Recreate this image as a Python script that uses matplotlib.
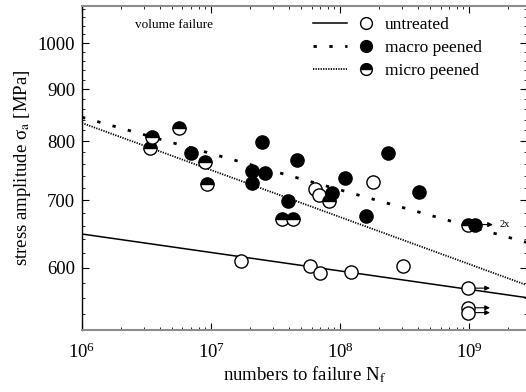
import matplotlib
matplotlib.use("Agg")
import matplotlib.pyplot as plt
import numpy as np
from matplotlib.lines import Line2D
from matplotlib.legend_handler import HandlerTuple
from matplotlib.ticker import FixedLocator, NullFormatter, LogLocator

plt.rcParams['font.family'] = 'serif'
plt.rcParams['font.serif'] = ['Liberation Serif', 'DejaVu Serif']
plt.rcParams['mathtext.fontset'] = 'stix'

# data
untreated_N = [1.71e7, 5.85e7, 7.0e7, 1.22e8, 3.08e8, 6.4e7, 6.9e7, 1.8e8, 9.8e8]
untreated_S = [610, 603, 593, 594, 603, 718, 708, 730, 573]
runout_N = [9.8e8, 9.8e8]
runout_S = [548, 542]

macro_N = [7.0e6, 2.48e7, 2.08e7, 2.62e7, 2.08e7, 4.64e7, 3.95e7, 8.67e7,
           1.09e8, 2.36e8, 4.1e8, 1.59e8, 1.11e9]
macro_S = [779, 799, 748, 744, 728, 767, 698, 711, 736, 779, 713, 675, 662]

micro_N = [3.37e6, 3.49e6, 5.65e6, 8.97e6, 9.3e6, 3.55e7, 4.32e7, 8.2e7, 9.8e8]
micro_S = [788, 808, 825, 763, 726, 671, 671, 698, 662]

# fitted S-N lines (end points)
fit_N = [1e6, 3e9]
untreated_fit = [648, 560]
macro_fit = [845, 634]
micro_fit = [834, 575]

fig = plt.figure(figsize=(5.26, 3.92), dpi=100)
ax = fig.add_axes([82/526, 1-330/392, 445/526, 324/392])
ax.set_xscale('log')
ax.set_yscale('log')

ax.plot(fit_N, untreated_fit, color='black', lw=1.1, zorder=2)
ax.plot(fit_N, macro_fit, color='black', lw=2.0, ls=(0, (1.2, 4.5)), zorder=2)
ax.plot(fit_N, micro_fit, color='black', lw=1.3, ls=(0, (0.7, 0.7)), zorder=2)

ms = 9.5
ax.plot(untreated_N, untreated_S, 'o', ms=ms, mfc='white', mec='black', mew=1.0, zorder=3)
ax.plot(runout_N, runout_S, 'o', ms=ms, mfc='white', mec='black', mew=1.0, zorder=3)
ax.plot(micro_N, micro_S, 'o', ms=ms, fillstyle='top', mfc='black', mfcalt='white',
        mec='black', mew=1.0, zorder=3)
ax.plot(macro_N, macro_S, 'o', ms=ms, mfc='black', mec='black', mew=1.0, zorder=4)

# run-out arrows
for n, s in zip([9.8e8] + runout_N, [573] + runout_S):
    ax.annotate('', xy=(n*1.55, s), xytext=(n*1.08, s),
                arrowprops=dict(arrowstyle='-|>', lw=0.8, color='black',
                                mutation_scale=7))
ax.annotate('', xy=(1.6e9, 662), xytext=(1.2e9, 662),
            arrowprops=dict(arrowstyle='-|>', lw=0.8, color='black', mutation_scale=7))
ax.text(1.72e9, 662, '2x', fontsize=7.5, va='center', ha='left')

ax.text(0.12, 0.94, 'volume failure', transform=ax.transAxes, fontsize=9.5,
        va='center', ha='left')

ax.set_xlim(1e6, 2.8e9)
ax.set_ylim(521, 1088)

ax.xaxis.set_major_locator(LogLocator(base=10, numticks=10))
ax.xaxis.set_minor_locator(LogLocator(base=10, subs=np.arange(2, 10), numticks=10))
ax.yaxis.set_major_locator(FixedLocator([600, 700, 800, 900, 1000]))
ax.yaxis.set_minor_locator(FixedLocator(np.arange(520, 1100, 20)))
ax.yaxis.set_major_formatter(matplotlib.ticker.FixedFormatter(['600', '700', '800', '900', '1000']))
ax.yaxis.set_minor_formatter(NullFormatter())

ax.tick_params(which='both', direction='in', top=True, right=True, labelsize=13.5)
ax.tick_params(which='major', length=5, width=0.8)
ax.tick_params(which='minor', length=2.5, width=0.6)
ax.tick_params(axis='x', pad=9)
ax.tick_params(axis='y', pad=5)

for side in ['top', 'bottom']:
    ax.spines[side].set_color('0.55')
    ax.spines[side].set_linewidth(1.5)
ax.spines['left'].set_linewidth(1.0)

ax.set_xlabel('numbers to failure N$_\\mathrm{f}$', fontsize=13.5, labelpad=2)
ax.set_ylabel('stress amplitude σ$_\\mathrm{a}$ [MPa]', fontsize=13.5, labelpad=3)

h1 = (Line2D([], [], color='black', lw=1.1),
      Line2D([], [], ls='none', marker='o', ms=8.5, mfc='white', mec='black'))
h2 = (Line2D([], [], color='black', lw=2.0, ls=(0, (1.2, 4.5))),
      Line2D([], [], ls='none', marker='o', ms=8.5, mfc='black', mec='black'))
h3 = (Line2D([], [], color='black', lw=1.3, ls=(0, (0.7, 0.7))),
      Line2D([], [], ls='none', marker='o', ms=8.5, fillstyle='top', mfc='black',
             mfcalt='white', mec='black'))
ax.legend([h1, h2, h3], ['untreated', 'macro peened', 'micro peened'],
          handler_map={tuple: HandlerTuple(ndivide=None, pad=0.15)},
          loc='upper left', bbox_to_anchor=(0.485, 1.015), frameon=False,
          fontsize=12.5, handlelength=4.0, handletextpad=0.1, labelspacing=0.4)

fig.savefig('out.png', dpi=100)
